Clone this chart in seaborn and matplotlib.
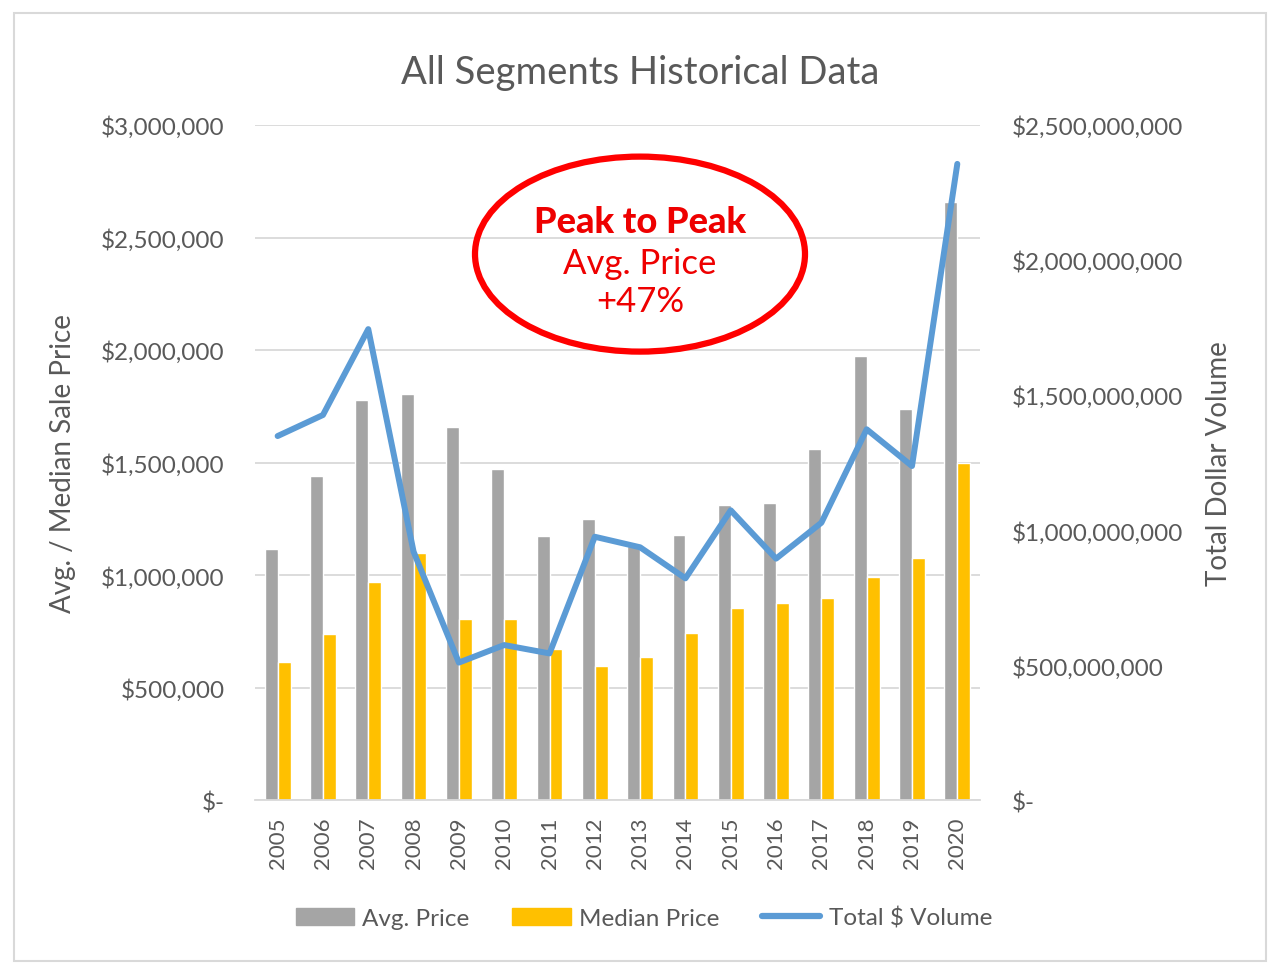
import matplotlib
matplotlib.use("Agg")
import matplotlib.pyplot as plt
import matplotlib.patches as mpatches
from matplotlib.lines import Line2D
from matplotlib.ticker import FuncFormatter
import numpy as np
import pandas as pd
import seaborn as sns

years = [str(y) for y in range(2005, 2021)]
avg_price = [1117000, 1439000, 1777000, 1806000, 1658000, 1473000, 1175000, 1251000,
             1129000, 1179000, 1311000, 1321000, 1562000, 1974000, 1740000, 2657000]
median_price = [612000, 738000, 969000, 1096000, 805000, 805000, 670000, 596000,
                636000, 741000, 853000, 876000, 896000, 993000, 1076000, 1497000]
total_volume = [1348e6, 1426e6, 1744e6, 920e6, 509e6, 574e6, 543e6, 975e6,
                936e6, 821e6, 1073e6, 894e6, 1027e6, 1373e6, 1237e6, 2356e6]

GRAY = "#a5a5a5"
GOLD = "#ffc000"
BLUE = "#5b9bd5"
TXT = "#595959"

sns.set_style("white")
plt.rcParams["font.family"] = ["Lato", "DejaVu Sans"]

bars = pd.DataFrame({
    "year": years * 2,
    "price": avg_price + median_price,
    "series": ["Avg. Price"] * len(years) + ["Median Price"] * len(years),
})

fig = plt.figure(figsize=(12.8, 9.7), dpi=100)
ax = fig.add_axes([0.1992, 0.1742, 0.5664, 0.6959])

sns.barplot(data=bars, x="year", y="price", hue="series",
            palette=[GRAY, GOLD], width=0.57, saturation=1, ax=ax, legend=False)
ax.set_ylim(0, 3000000)
ax.set_xlim(-0.5, len(years) - 0.5)
ax.set_yticks(np.arange(0, 3000001, 500000))
ax.yaxis.set_major_formatter(FuncFormatter(lambda v, p: "$-" if v == 0 else f"${v:,.0f}"))
ax.grid(axis="y", color="#d9d9d9", linewidth=1.3)
ax.set_axisbelow(True)
for s in ["top", "left", "right"]:
    ax.spines[s].set_visible(False)
ax.spines["bottom"].set_color("#d9d9d9")
ax.spines["bottom"].set_linewidth(1.3)
ax.tick_params(axis="both", length=0, colors=TXT, labelsize=16)
ax.tick_params(axis="y", labelsize=17.5, pad=22)
ax.tick_params(axis="x", rotation=90, pad=12)
ax.set_xlabel("")
ax.set_ylabel("Avg. / Median Sale Price", color=TXT, fontsize=20, labelpad=18)

ax2 = ax.twinx()
sns.lineplot(x=np.arange(len(years)), y=total_volume, color=BLUE, linewidth=4.3, ax=ax2)
ax2.set_ylim(0, 2500000000)
ax2.set_yticks(np.arange(0, 2500000001, 500000000))
ax2.yaxis.set_major_formatter(FuncFormatter(lambda v, p: "$-" if v == 0 else f"${v:,.0f}"))
for s in ["top", "left", "right", "bottom"]:
    ax2.spines[s].set_visible(False)
ax2.tick_params(axis="y", length=0, colors=TXT, labelsize=17.5, pad=23)
ax2.set_ylabel("Total Dollar Volume", color=TXT, fontsize=20, labelpad=16)
ax2.set_xlim(-0.5, len(years) - 0.5)

fig.text(0.5, 0.925, "All Segments Historical Data", ha="center", va="center",
         color=TXT, fontsize=27.5)

# callout
ell = mpatches.Ellipse((0.5, 0.737), 330 / 1280, 195 / 970, transform=fig.transFigure,
                       fill=False, edgecolor="#ff0000", linewidth=4.5)
fig.patches.append(ell)
fig.text(0.5, 0.771, "Peak to Peak", ha="center", va="center", color="#ee0000",
         fontsize=26, fontweight="black")
fig.text(0.5, 0.728, "Avg. Price", ha="center", va="center", color="#ee0000", fontsize=25)
fig.text(0.5, 0.689, "+47%", ha="center", va="center", color="#ee0000", fontsize=25)

handles = [mpatches.Patch(color=GRAY, label="Avg. Price"),
           mpatches.Patch(color=GOLD, label="Median Price"),
           Line2D([0], [0], color=BLUE, linewidth=4.5, label="Total $ Volume")]
leg = fig.legend(handles=handles, loc="center", bbox_to_anchor=(0.503, 0.053), ncol=3,
                 frameon=False, fontsize=17.5, handlelength=2.4, handleheight=0.7,
                 columnspacing=1.75, handletextpad=0.35)
for t in leg.get_texts():
    t.set_color(TXT)

border = mpatches.Rectangle((14 / 1280, 8 / 970), 1252 / 1280, 948 / 970,
                            transform=fig.transFigure, fill=False,
                            edgecolor="#d9d9d9", linewidth=1.5)
fig.patches.append(border)

fig.savefig("out.png", dpi=100)
